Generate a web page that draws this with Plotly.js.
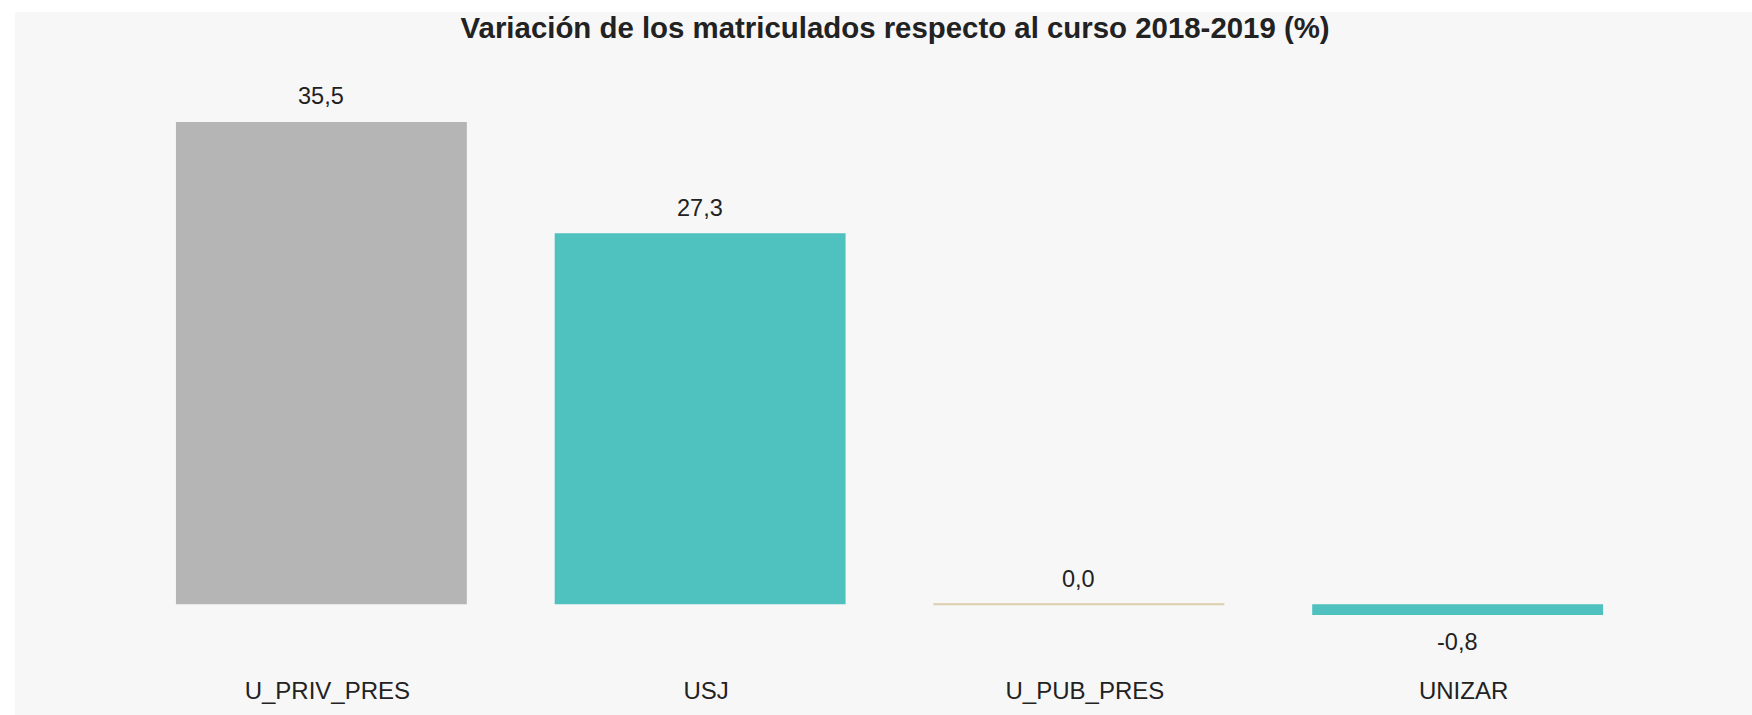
<!DOCTYPE html>
<html>
<head>
<meta charset="utf-8">
<script src="https://cdn.plot.ly/plotly-3.0.1.min.js"></script>
<style>
  html, body { margin: 0; padding: 0; background: #ffffff; width: 1752px; height: 715px; overflow: hidden; }
  #chart { position: absolute; left: 15px; top: 12px; width: 1737px; height: 703px; }
</style>
</head>
<body>
<div id="chart"></div>
<script>
// ---- data ----
const categories = ["U_PRIV_PRES", "USJ", "U_PUB_PRES", "UNIZAR"];
const values = [35.5, 27.3, 0.0, -0.8];
const chartTitle = "Variación de los matriculados respecto al curso 2018-2019 (%)";

// ---- styles ----
const barColors = ["#b5b5b5", "#4fc1be", "#dccdab", "#4fc1be"];
const lineWidths = [0, 0, 2, 0];
const textColor = "#222222";
const fontFamily = "'Liberation Sans', Arial, Helvetica, sans-serif";

function fmt(v) { return v.toFixed(1).replace('.', ','); }

const trace = {
  type: "bar",
  x: categories,
  y: values,
  marker: { color: barColors, line: { color: barColors, width: lineWidths } },
  hoverinfo: "x+y",
  cliponaxis: false
};

const annotations = values.map((v, i) => ({
  x: categories[i],
  y: v,
  xref: "x",
  yref: "y",
  text: fmt(v),
  showarrow: false,
  xanchor: "center",
  yanchor: "middle",
  yshift: v >= 0 ? 25.5 : -27,
  font: { family: fontFamily, size: 23.5, color: textColor }
}));

const layout = {
  width: 1737,
  height: 703,
  paper_bgcolor: "#f7f7f7",
  plot_bgcolor: "#f7f7f7",
  margin: { l: 117, r: 105, t: 76, b: 70, pad: 0 },
  showlegend: false,
  bargap: 0.232,
  title: {
    text: "<b>" + chartTitle + "</b>",
    xref: "container",
    yref: "container",
    x: 0.5067,
    xanchor: "center",
    y: 1 - 15.5 / 703,
    yanchor: "middle",
    font: { family: fontFamily, size: 29.4, color: textColor }
  },
  xaxis: {
    type: "category",
    range: [-0.5, 3.5],
    showgrid: false,
    zeroline: false,
    showline: false,
    ticks: "",
    ticklabelstandoff: 29,
    ticklabelshift: 6,
    tickfont: { family: fontFamily, size: 24, color: textColor },
    fixedrange: true
  },
  yaxis: {
    range: [-3, 38],
    showgrid: false,
    zeroline: false,
    showline: false,
    showticklabels: false,
    ticks: "",
    fixedrange: true
  },
  annotations: annotations,
  font: { family: fontFamily, color: textColor }
};

Plotly.newPlot("chart", [trace], layout, { displayModeBar: false, staticPlot: true });
</script>
</body>
</html>
